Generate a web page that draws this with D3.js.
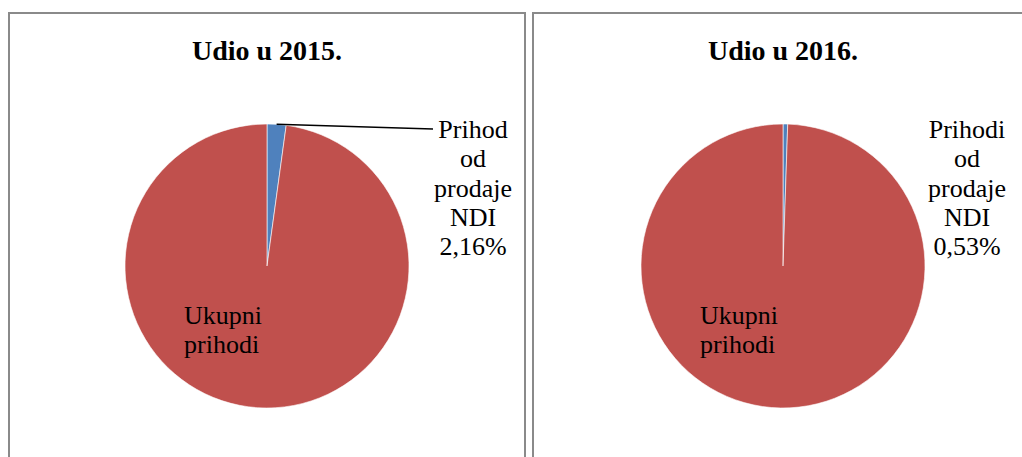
<!DOCTYPE html>
<html>
<head>
<meta charset="utf-8">
<script src="https://cdn.jsdelivr.net/npm/d3@7"></script>
<style>
  body { margin: 0; background: #fff; }
  svg text { font-family: "Liberation Serif", "Times New Roman", serif; fill: #000; }
</style>
</head>
<body>
<div id="main"></div>
<script>
// data
const titles = ['Udio u 2015.', 'Udio u 2016.'];
const categories = ['NDI', 'Ukupni prihodi'];
const shares2015 = [2.16, 97.84];
const shares2016 = [0.53, 99.47];
const ndiLabels = [
  ['Prihod', 'od', 'prodaje', 'NDI', '2,16%'],
  ['Prihodi', 'od', 'prodaje', 'NDI', '0,53%']
];
const restLabel = ['Ukupni', 'prihodi'];

// SVG
const w = 1022;
const h = 457;
const r = 142;

const colorScale = d3.scaleOrdinal()
  .domain(categories)
  .range(['#4F81BD', '#C0504D']);

const svg = d3.select('#main')
  .append('svg')
  .attr('width', w)
  .attr('height', h);

// panels
const panels = [
  { x: 9, w: 516, cx: 267, labelX: 473, series: shares2015, leader: true },
  { x: 533, w: 500, cx: 783, labelX: 967, series: shares2016, leader: false }
];

const pie = d3.pie().sort(null).value(d => d);
const arc = d3.arc().innerRadius(0).outerRadius(r);

panels.forEach((p, i) => {
  svg.append('rect')
    .attr('x', p.x)
    .attr('y', 13)
    .attr('width', p.w)
    .attr('height', h + 20)
    .attr('fill', 'none')
    .attr('stroke', '#8a8a8a')
    .attr('stroke-width', 2);

  svg.append('text')
    .attr('x', p.cx)
    .attr('y', 60)
    .attr('text-anchor', 'middle')
    .style('font-size', '28px')
    .style('font-weight', 'bold')
    .text(titles[i]);

  const g = svg.append('g')
    .attr('transform', `translate(${p.cx}, 266)`);

  const slices = pie(p.series);

  g.selectAll('path')
    .data(slices)
    .enter()
    .append('path')
    .attr('d', arc)
    .attr('fill', (d, j) => colorScale(categories[j]))
    .attr('stroke', '#fff')
    .attr('stroke-width', 0.6);

  // label of the small slice
  const lab = svg.append('text')
    .attr('text-anchor', 'middle')
    .style('font-size', '26px');
  ndiLabels[i].forEach((t, k) => {
    lab.append('tspan')
      .attr('x', p.labelX)
      .attr('y', 138 + k * 29.3)
      .text(t);
  });

  if (p.leader) {
    const a = (slices[0].startAngle + slices[0].endAngle) / 2;
    svg.append('line')
      .attr('x1', p.cx + Math.sin(a) * r)
      .attr('y1', 266 - Math.cos(a) * r)
      .attr('x2', p.cx + 166)
      .attr('y2', 129)
      .attr('stroke', '#000')
      .attr('stroke-width', 1.5);
  }

  const rest = svg.append('text')
    .style('font-size', '26px');
  restLabel.forEach((t, k) => {
    rest.append('tspan')
      .attr('x', p.cx - 83)
      .attr('y', 324 + k * 28.5)
      .text(t);
  });
});
</script>
</body>
</html>
